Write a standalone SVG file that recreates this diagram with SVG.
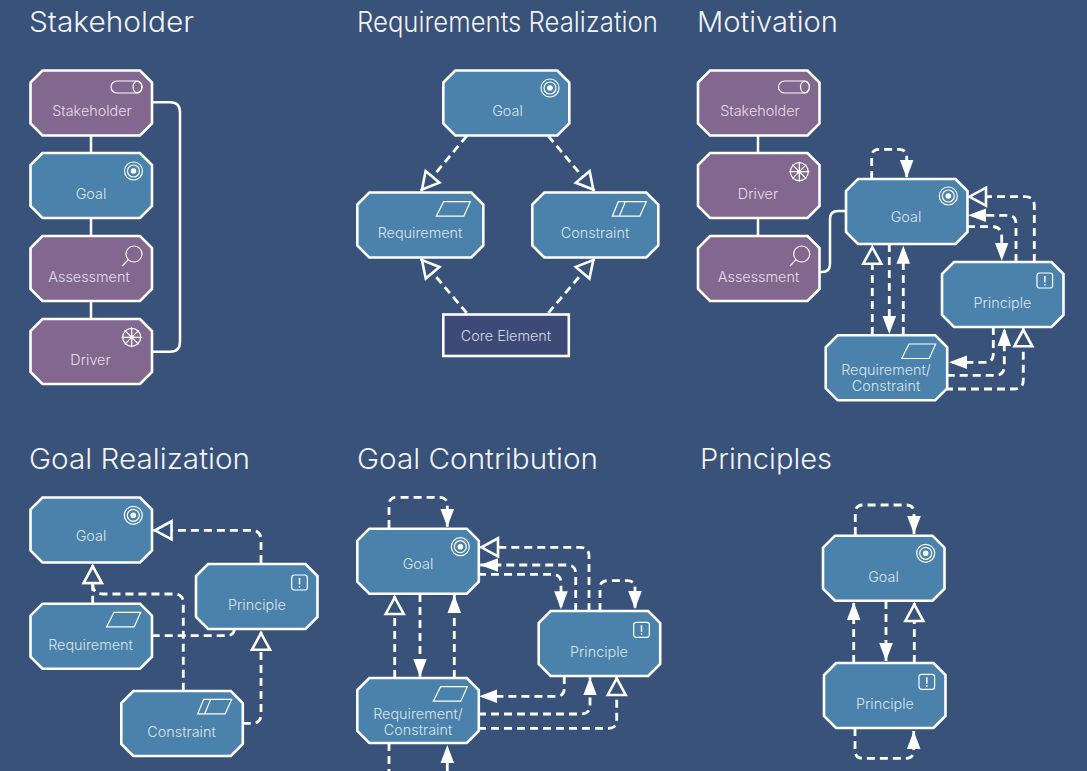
<svg xmlns="http://www.w3.org/2000/svg" width="1087" height="771" viewBox="0 0 1087 771">
<style>
text{font-family:Inter,"Liberation Sans",Arial,sans-serif;font-weight:300;fill:#fff}
.t{font-size:28px;fill-opacity:.95}
.l{font-size:14.4px;text-anchor:middle;fill-opacity:.8}
.n{stroke:#fff;stroke-width:2.6;stroke-linejoin:miter}
.b{fill:#4A82AB}.p{fill:#82678F}.c{fill:#3D4A78}
.i{fill:none;stroke:#fff;stroke-width:1.2}
.s{fill:none;stroke:#fff;stroke-width:2.5}
.d{fill:none;stroke:#fff;stroke-width:2.8;stroke-dasharray:8 5}
.f{marker-end:url(#fa)}.h{marker-end:url(#ha)}
</style>
<defs>
<path id="o" d="M12 0H109.5L121.5 12V53L109.5 65H12L0 53V12Z"/>
<path id="w" d="M12 0H114L126 12V53L114 65H12L0 53V12Z"/>
<marker id="fa" markerUnits="userSpaceOnUse" markerWidth="20" markerHeight="18" refX="18" refY="9" orient="auto"><path d="M0 2.2L18 9L0 15.8Z" fill="#fff"/></marker>
<marker id="ha" markerUnits="userSpaceOnUse" markerWidth="24" markerHeight="24" refX="20" refY="12" orient="auto"><path d="M2 3L18.5 12L2 21Z" fill="#39527A" stroke="#fff" stroke-width="2.6"/></marker>
<g id="ig" class="i"><circle r="9"/><circle r="6"/><circle r="2.8" fill="#fff" stroke="none"/></g>
<g id="ip" class="i"><rect width="15.6" height="15" rx="2.5"/><path d="M7.8 3V9.5M7.8 11V12.5" stroke-width="1.5"/></g>
<path id="ir" class="i" d="M0 14.5L7.3 0H34L27.5 14.5Z"/>
<path id="ic" class="i" d="M0 14.5L6 0H34L27.5 14.5ZM7 14.5L13 0"/>
<g id="is" class="i"><rect width="31" height="12" rx="6"/><ellipse cx="26.5" cy="6" rx="4.5" ry="6"/></g>
<g id="ia" class="i"><circle r="8"/><path d="M-5.7 5.7L-11.7 12"/></g>
<g id="id" class="i"><circle r="9"/><circle r="1.5"/><path d="M-10 0H10M0 -10V10M-7 -7L7 7M-7 7L7 -7"/></g>
</defs>
<rect width="1087" height="771" fill="#39527A"/>
<g id="titles">
<text class="t" x="29" y="32" textLength="165" lengthAdjust="spacingAndGlyphs">Stakeholder</text>
<text class="t" x="357" y="32" textLength="301" lengthAdjust="spacingAndGlyphs">Requirements Realization</text>
<text class="t" x="697" y="32" textLength="141" lengthAdjust="spacingAndGlyphs">Motivation</text>
<text class="t" x="29" y="469" textLength="221" lengthAdjust="spacingAndGlyphs">Goal Realization</text>
<text class="t" x="357" y="469" textLength="241" lengthAdjust="spacingAndGlyphs">Goal Contribution</text>
<text class="t" x="700" y="469" textLength="132" lengthAdjust="spacingAndGlyphs">Principles</text>
</g>
<g id="connectors">
<path class="s" d="M91 135V153M91 217V236M91 300V319M151.7 102.3H170Q180 102.3 180 112.3V341.7Q180 351.7 170 351.7H151.7"/>
<path class="d h" d="M466.7 136L421 190.7"/>
<path class="d h" d="M548.3 136L594.3 190.7"/>
<path class="d h" d="M466.7 313L421 259"/>
<path class="d h" d="M548.3 313L594.3 259"/>
<path class="s" d="M758 135V153M758 217V236M819 272H822Q830 272 830 264V219Q830 211 838 211H846"/>
<path class="d f" d="M871.7 179V157Q871.7 149.3 879 149.3H899Q906.7 149.3 906.7 157V178"/>
<path class="d h" d="M1034.3 262V206Q1034.3 196.7 1025 196.7H968"/>
<path class="d f" d="M1016 262V224Q1016 215.3 1007 215.3H968"/>
<path class="d f" d="M967 226.7H992Q1001.7 226.7 1001.7 236V260.7"/>
<path class="d h" d="M872.3 335V245.7"/>
<path class="d f" d="M889.3 244V334"/>
<path class="d f" d="M903.3 335V245.7"/>
<path class="d f" d="M993.3 327V354Q993.3 362.3 985 362.3H949"/>
<path class="d f" d="M946.7 375.3H995Q1004.3 375.3 1004.3 366V328"/>
<path class="d h" d="M945 389H1014Q1023.3 389 1023.3 380V328.3"/>
<path class="d h" d="M261 563V540Q261 530.3 251 530.3H153.5"/>
<path class="d h" d="M92.7 603.7V565"/>
<path class="d h" d="M183.3 690.7V603Q183.3 594 174 594H103Q92.7 594 92.7 584V565"/>
<path class="d" d="M151.7 635.7H226Q234.3 635.7 234.3 628.7"/>
<path class="d h" d="M242.7 723.3H252Q261 723.3 261 714V631.7"/>
<path class="d f" d="M389 528V505Q389 497.3 397 497.3H439Q447.3 497.3 447.3 505V527"/>
<path class="d h" d="M589 611V556Q589 547.3 580 547.3H480"/>
<path class="d f" d="M575.7 611V574Q575.7 565 567 565H480"/>
<path class="d f" d="M478 574.3H552Q561 574.3 561 583V609.3"/>
<path class="d f" d="M600 611V588Q600 580.7 608 580.7H627Q635 580.7 635 588V609"/>
<path class="d h" d="M394.7 678V596"/>
<path class="d f" d="M420 594V676.7"/>
<path class="d f" d="M454.3 678V595"/>
<path class="d f" d="M564.3 676V688Q564.3 696.3 556 696.3H479.3"/>
<path class="d f" d="M478 714H581Q590 714 590 705V677.3"/>
<path class="d h" d="M478 728.3H608Q616.7 728.3 616.7 720V677"/>
<path class="d" d="M389 743V771"/>
<path class="d f" d="M447.3 771V745"/>
<path class="d f" d="M855.3 535V513Q855.3 505 863 505H906Q914 505 914 513V534"/>
<path class="d f" d="M853.7 663V602"/>
<path class="d f" d="M886 601V661"/>
<path class="d h" d="M914.3 663V603"/>
<path class="d f" d="M855 728V750Q855 758.3 863 758.3H906Q913.7 758.3 913.7 750V731"/>
</g>
<g id="s-stakeholder"><use href="#o" x="30.5" y="70.5" class="n p"/><use href="#is" x="111" y="81"/><text class="l" x="92" y="116">Stakeholder</text></g>
<g id="s-goal"><use href="#o" x="30.5" y="153" class="n b"/><use href="#ig" x="133.5" y="171"/><text class="l" x="91" y="199">Goal</text></g>
<g id="s-assessment"><use href="#o" x="30.5" y="236" class="n p"/><use href="#ia" x="134" y="254"/><text class="l" x="89" y="282">Assessment</text></g>
<g id="s-driver"><use href="#o" x="30.5" y="319" class="n p"/><use href="#id" x="131.7" y="337.3"/><text class="l" x="90.5" y="365">Driver</text></g>
<g id="r-goal"><use href="#w" x="443.3" y="70.5" class="n b"/><use href="#ig" x="550" y="88"/><text class="l" x="507.5" y="116">Goal</text></g>
<g id="r-requirement"><use href="#w" x="357.3" y="192.5" class="n b"/><use href="#ir" x="436.3" y="201.7"/><text class="l" x="420" y="238">Requirement</text></g>
<g id="r-constraint"><use href="#w" x="532.3" y="192.5" class="n b"/><use href="#ic" x="612.3" y="201.7"/><text class="l" x="595" y="238">Constraint</text></g>
<g id="r-core"><rect x="443.3" y="314.5" width="125.5" height="41.5" class="n c"/><text class="l" x="506" y="341">Core Element</text></g>
<g id="m-stakeholder"><use href="#o" x="698" y="70.5" class="n p"/><use href="#is" x="778.5" y="81"/><text class="l" x="760" y="116">Stakeholder</text></g>
<g id="m-driver"><use href="#o" x="698" y="153" class="n p"/><use href="#id" x="799.3" y="171.7"/><text class="l" x="758" y="199">Driver</text></g>
<g id="m-assessment"><use href="#o" x="698" y="236" class="n p"/><use href="#ia" x="801.7" y="254"/><text class="l" x="758.5" y="282">Assessment</text></g>
<g id="m-goal"><use href="#o" x="846" y="179" class="n b"/><use href="#ig" x="948.3" y="196"/><text class="l" x="906" y="222">Goal</text></g>
<g id="m-principle"><use href="#o" x="942" y="262" class="n b"/><use href="#ip" x="1037" y="273"/><text class="l" x="1002.5" y="308">Principle</text></g>
<g id="m-reqcon"><use href="#o" x="825.7" y="335.3" class="n b"/><use href="#ir" x="901.7" y="344"/><text class="l" x="886" y="375">Requirement/</text><text class="l" x="886" y="391">Constraint</text></g>
<g id="g-goal"><use href="#o" x="30.5" y="497.5" class="n b"/><use href="#ig" x="133.3" y="515.3"/><text class="l" x="91" y="541">Goal</text></g>
<g id="g-principle"><use href="#o" x="196" y="564" class="n b"/><use href="#ip" x="291.7" y="575"/><text class="l" x="257" y="610">Principle</text></g>
<g id="g-requirement"><use href="#o" x="30.5" y="603.7" class="n b"/><use href="#ir" x="106.7" y="612.3"/><text class="l" x="90.5" y="650">Requirement</text></g>
<g id="g-constraint"><use href="#o" x="121.3" y="691" class="n b"/><use href="#ic" x="197.7" y="699.3"/><text class="l" x="181.5" y="737">Constraint</text></g>
<g id="c-goal"><use href="#o" x="357.3" y="528.7" class="n b"/><use href="#ig" x="460.3" y="546.7"/><text class="l" x="418" y="569">Goal</text></g>
<g id="c-principle"><use href="#o" x="538.7" y="611" class="n b"/><use href="#ip" x="633.7" y="622.3"/><text class="l" x="599" y="657">Principle</text></g>
<g id="c-reqcon"><use href="#o" x="357.3" y="678" class="n b"/><use href="#ir" x="433.3" y="686.7"/><text class="l" x="418" y="719">Requirement/</text><text class="l" x="418" y="735">Constraint</text></g>
<g id="p-goal"><use href="#o" x="823" y="535.7" class="n b"/><use href="#ig" x="925.7" y="553.3"/><text class="l" x="883.5" y="582">Goal</text></g>
<g id="p-principle"><use href="#o" x="824" y="663" class="n b"/><use href="#ip" x="919" y="674.3"/><text class="l" x="885" y="709">Principle</text></g>
</svg>
